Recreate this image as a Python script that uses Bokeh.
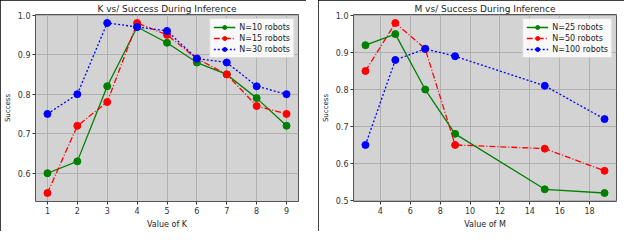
from bokeh.plotting import figure
from bokeh.layouts import row
from bokeh.models import FixedTicker
from bokeh.embed import file_html
from bokeh.resources import INLINE

# ---- data: left panel ----
k_values = [1, 2, 3, 4, 5, 6, 7, 8, 9]
k_n10 = [0.60, 0.63, 0.82, 0.97, 0.93, 0.88, 0.85, 0.79, 0.72]
k_n15 = [0.55, 0.72, 0.78, 0.98, 0.95, 0.89, 0.85, 0.77, 0.75]
k_n30 = [0.75, 0.80, 0.98, 0.97, 0.96, 0.89, 0.88, 0.82, 0.80]
k_labels = ["N=10 robots", "N=15 robots", "N=30 robots"]
k_xticks = [1, 2, 3, 4, 5, 6, 7, 8, 9]
k_yticks = [0.6, 0.7, 0.8, 0.9, 1.0]

# ---- data: right panel ----
m_values = [3, 5, 7, 9, 15, 19]
m_n25 = [0.92, 0.95, 0.80, 0.68, 0.53, 0.52]
m_n50 = [0.85, 0.98, 0.91, 0.65, 0.64, 0.58]
m_n100 = [0.65, 0.88, 0.91, 0.89, 0.81, 0.72]
m_labels = ["N=25 robots", "N=50 robots", "N=100 robots"]
m_xticks = [2, 4, 6, 8, 10, 12, 14, 16, 18]
m_yticks = [0.5, 0.6, 0.7, 0.8, 0.9, 1.0]

COLORS = ["#008000", "#ff0000", "#0000ff"]
DASHES = ["solid", "6 2 1 2", "2 2"]
FONT = "DejaVu Sans"


def make_panel(title, xlabel, xs, series, labels, xticks, yticks, xr, yr, width):
    p = figure(width=width, height=231, x_range=xr, y_range=yr,
               output_backend="svg", toolbar_location=None, title=title,
               min_border_left=4, min_border_right=8, min_border_top=4,
               min_border_bottom=2)
    p.title.align = "center"
    p.title.text_font = FONT
    p.title.text_font_size = "9px"
    p.title.text_font_style = "normal"
    p.title.text_color = "#222222"
    p.title.standoff = 2
    p.background_fill_color = "#d3d3d3"
    p.border_fill_color = "white"
    p.outline_line_color = "#555555"
    p.outline_line_width = 1
    p.styles = {"outline": "2px solid black", "outline-offset": "-2px"}

    for ax in (p.xaxis[0], p.yaxis[0]):
        ax.major_label_text_font = FONT
        ax.major_label_text_font_size = "8px"
        ax.major_label_text_color = "#333333"
        ax.axis_label_text_font = FONT
        ax.axis_label_text_font_style = "normal"
        ax.axis_label_text_color = "#222222"
        ax.major_tick_in = 0
        ax.major_tick_out = 3
        ax.minor_tick_line_color = None
        ax.axis_line_color = None
        ax.major_tick_line_color = "#333333"
        ax.major_label_standoff = 2
        ax.axis_label_standoff = 3
    p.xaxis.axis_label = xlabel
    p.xaxis.axis_label_text_font_size = "8px"
    p.yaxis.axis_label = "Success"
    p.yaxis.axis_label_text_font_size = "7px"
    p.xaxis.ticker = FixedTicker(ticks=xticks)
    p.yaxis.ticker = FixedTicker(ticks=yticks)
    p.yaxis.major_label_overrides = {t: "%.1f" % t for t in yticks}
    p.xgrid.ticker = FixedTicker(ticks=xticks)
    p.ygrid.ticker = FixedTicker(ticks=yticks)
    p.grid.grid_line_color = "#b0b0b0"
    p.grid.grid_line_width = 1

    for ys, lab, c, d in zip(series, labels, COLORS, DASHES):
        p.line(xs, ys, line_color=c, line_width=1.3, line_dash=d, legend_label=lab)
        p.scatter(xs, ys, size=7, fill_color=c, line_color=c, legend_label=lab)

    lg = p.legend[0]
    lg.location = "top_right"
    lg.label_text_font = FONT
    lg.label_text_font_size = "8px"
    lg.label_text_color = "#222222"
    lg.glyph_width = 22
    lg.glyph_height = 10
    lg.label_height = 10
    lg.spacing = 1
    lg.padding = 3
    lg.margin = 4
    lg.label_standoff = 4
    lg.border_line_color = "#bbbbbb"
    lg.background_fill_color = "white"
    lg.background_fill_alpha = 0.85
    return p


p1 = make_panel("K vs/ Success During Inference", "Value of K", k_values,
                [k_n10, k_n15, k_n30], k_labels, k_xticks, k_yticks,
                (0.6, 9.4), (0.5285, 1.0015), 306)
p2 = make_panel("M vs/ Success During Inference", "Value of M", m_values,
                [m_n25, m_n50, m_n100], m_labels, m_xticks, m_yticks,
                (2.2, 19.8), (0.497, 1.003), 306)

layout = row(p1, p2, spacing=12)
open("out.html", "w").write(file_html(layout, INLINE))
